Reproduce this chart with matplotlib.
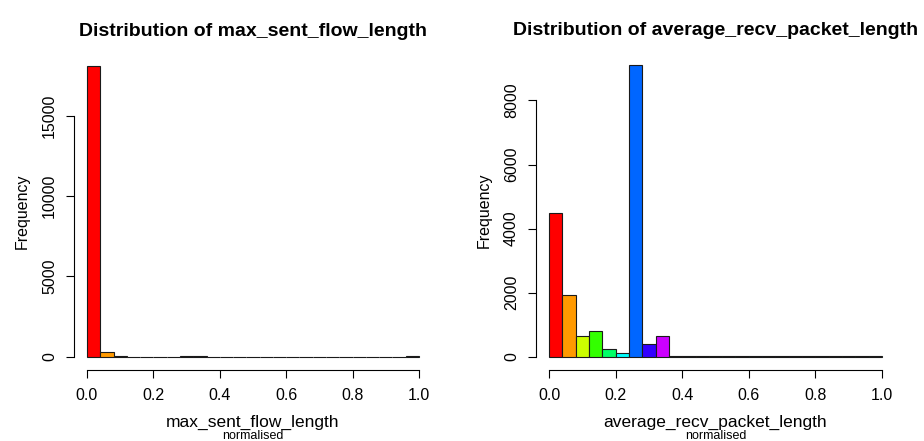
import numpy as np
import matplotlib
matplotlib.use("Agg")
import matplotlib.pyplot as plt

plt.rcParams['font.family'] = ['Liberation Sans', 'DejaVu Sans']

# histogram bins: 0 to 1 in steps of 0.04
bin_edges = np.linspace(0, 1, 26)

# counts
max_sent_counts = [18120, 290, 20, 6, 5, 4, 4, 25, 30, 4, 3, 3, 2, 2, 2, 2,
                   2, 2, 2, 2, 2, 2, 3, 4, 30]
avg_recv_counts = [4500, 1920, 640, 806, 244, 119, 9110, 381, 631, 15,
                   10, 8, 6, 5, 3, 2, 5, 3, 6, 8, 7, 6, 4, 2, 5]

# R rainbow(10), recycled across the bins
rainbow10 = ['#FF0000', '#FF9900', '#CCFF00', '#33FF00', '#00FF66',
             '#00FFFF', '#0066FF', '#3300FF', '#CC00FF', '#FF0099']

panels = [
    ("max_sent_flow_length", max_sent_counts, [0, 5000, 10000, 15000]),
    ("average_recv_packet_length", avg_recv_counts, [0, 2000, 4000, 6000, 8000]),
]

W, H = 924, 441
fig = plt.figure(figsize=(W / 100, H / 100), dpi=100)

# axes boxes in pixels: left, right, top, bottom
boxes = [(73.7, 432.3, 54, 368.3), (535.7, 895.3, 53.3, 368.2)]

for (name, counts, yticks), (x0, x1, y0, y1) in zip(panels, boxes):
    ax = fig.add_axes([x0 / W, 1 - y1 / H, (x1 - x0) / W, (y1 - y0) / H])
    cols = [rainbow10[i % 10] for i in range(len(counts))]
    ax.bar(bin_edges[:-1], counts, width=np.diff(bin_edges), align='edge',
           color=cols, edgecolor='#1a1a1a', linewidth=0.8)
    top = max(counts)
    ax.set_xlim(-0.04, 1.04)
    ax.set_ylim(-0.04 * top, 1.04 * top)

    for s in ['top', 'right']:
        ax.spines[s].set_visible(False)
    ax.spines['left'].set_bounds(yticks[0], yticks[-1])
    ax.spines['bottom'].set_bounds(0, 1)
    ax.spines['left'].set_position(('outward', 0))
    ax.spines['bottom'].set_position(('outward', 1))
    ax.spines['left'].set_linewidth(0.8)
    ax.spines['bottom'].set_linewidth(0.8)

    ax.set_xticks(np.arange(0, 1.01, 0.2))
    ax.set_xticklabels([f"{v:.1f}" for v in np.arange(0, 1.01, 0.2)])
    ax.set_yticks(yticks)
    ax.set_yticklabels([str(v) for v in yticks], rotation=90, va='center')
    ax.tick_params(axis='both', length=6, width=0.8, labelsize=11.5, pad=6,
                   colors='black')
    ax.tick_params(axis='x', pad=7)

    ax.set_ylabel("Frequency", fontsize=11.5, labelpad=9)
    ax.set_title("Distribution of " + name, fontsize=14, fontweight='bold',
                 pad=13)
    cx = (x0 + x1) / 2 / W
    fig.text(cx, 1 - 422 / H, name, ha='center', va='center', fontsize=12.5)
    fig.text(cx, 1 - 436 / H, "normalised", ha='center', va='center',
             fontsize=9)

fig.savefig("out.png", dpi=100)
